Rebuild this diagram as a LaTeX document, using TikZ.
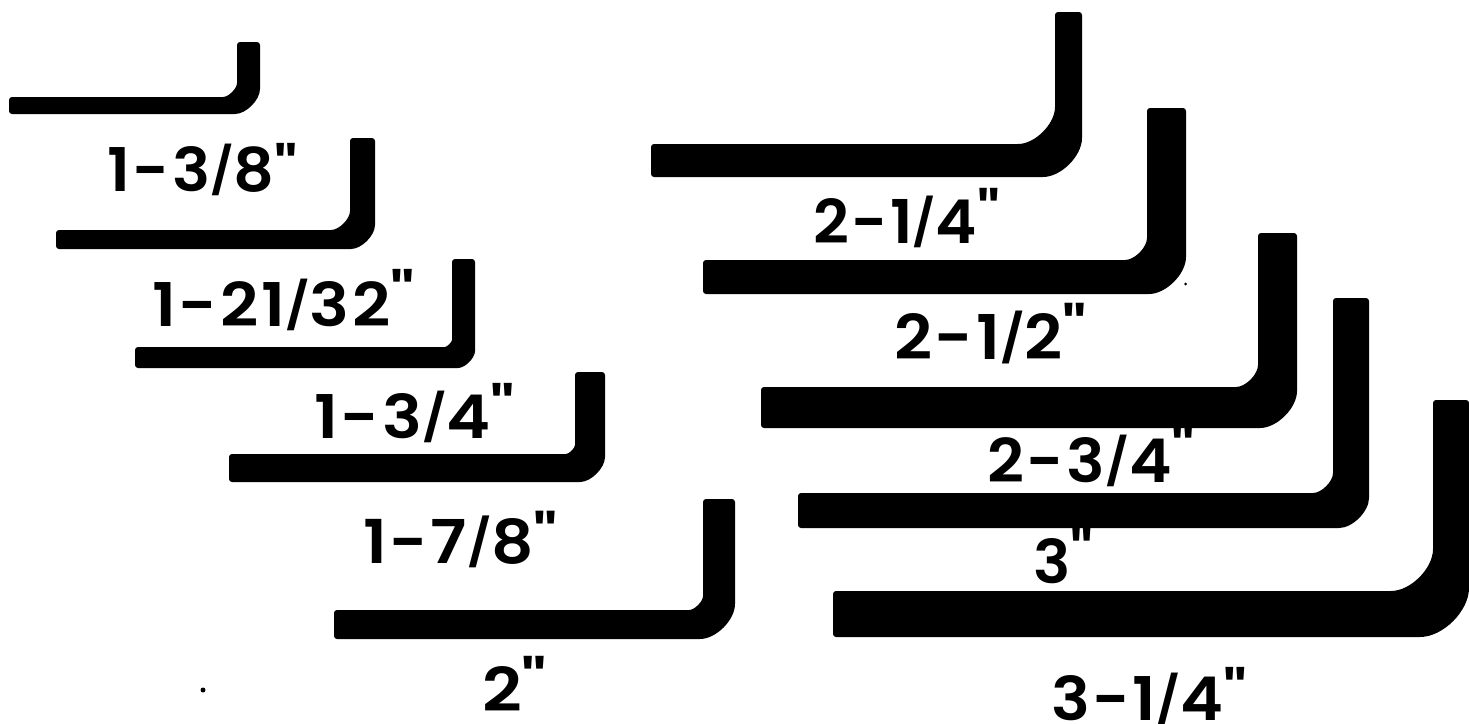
\documentclass[tikz,border=0pt]{standalone}
\usepackage{fontspec}
\usepackage{graphicx}
\newfontfamily\labfont{Poppins}[LetterSpace=4,UprightFont=* SemiBold]
\newcommand{\sla}{\smash{\raisebox{0.06em}{\resizebox{!}{0.72em}{/}}}}
\newcommand{\qu}[1]{\smash{\raisebox{#1em}{"}}}
\newcommand{\lbar}[8]{%
 \path[fill=black,rounded corners=3pt] (#1,#2) -- ({#4-#7},#2) .. controls ({#4-#7*0.5},#2) and (#4,{#2-#7*0.5}) .. (#4,{#2-#7}) -- (#4,#6)
 -- (#5,#6) -- (#5,{#3-#8}) .. controls (#5,{#3-#8*0.5}) and ({#5-#8*0.5},#3) .. ({#5-#8},#3) -- (#1,#3) -- cycle;}
\newcommand{\lab}[6]{\node[labstyle] (#1) at (#2,#3) {\resizebox{#4pt}{#5pt}{\labfont #6}};}
\tikzset{labstyle/.style={inner sep=0pt,outer sep=0pt,text=black,anchor=base west,font=\fontsize{60}{60}\selectfont}}
\begin{document}
\begin{tikzpicture}[x=1pt,y=-1pt]
\useasboundingbox[fill=white] (0,0) rectangle (1469,723);
\lbar{9}{97}{114}{237}{260}{42}{17}{28}
\lbar{56}{230}{249}{350}{375}{138}{22}{27}
\lbar{135}{347}{368}{452}{475}{259}{10}{20}
\lbar{229}{454}{482}{575}{605}{372}{12}{28}
\lbar{334}{610}{639}{703}{735}{499}{17}{38}
\lbar{651}{144}{177}{1055}{1082}{12}{40}{42}
\lbar{703}{260}{294}{1147}{1186}{108}{25}{40}
\lbar{761}{387}{428}{1258}{1297}{233}{25}{40}
\lbar{798}{493}{528}{1333}{1369}{298}{23}{33}
\lbar{833}{591}{637}{1433}{1469}{400}{45}{52}
\lab{a}{107}{191}{191}{45}{1-3\sla8\qu{0}}
\lab{b}{152}{326}{263}{45}{1-21\sla32\qu{.14}}
\lab{c}{314}{438}{201}{45}{1-3\sla4\qu{.10}}
\lab{d}{363}{563}{195}{45}{1-7\sla8\qu{.05}}
\lab{e}{482}{711}{65}{45}{2\qu{.11}}
\lab{f}{813}{243}{187}{45}{2-1\sla4\qu{.11}}
\lab{g}{894}{359}{193}{46}{2-1\sla2\qu{.10}}
\lab{h}{987}{482}{208}{45}{2-3\sla4\qu{.14}}
\lab{i}{1033}{583}{60}{45}{3\qu{.10}}
\lab{j}{1051}{720}{196}{45}{3-1\sla4\qu{.07}}
\fill (203,690) circle (2.5);
\fill (1185.5,284) circle (1.5);
\end{tikzpicture}
\end{document}
